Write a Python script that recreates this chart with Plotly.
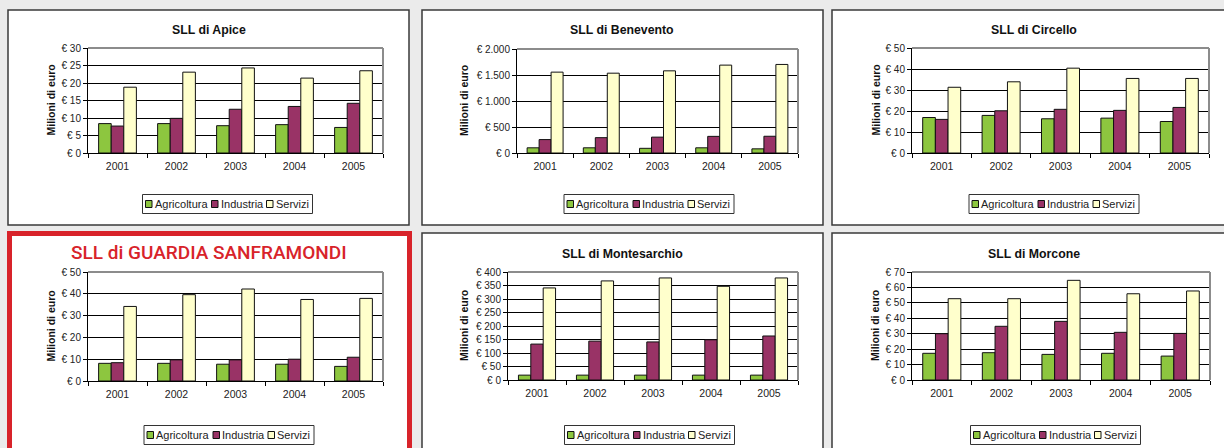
import plotly.graph_objects as go

# ---------------- data ----------------
years = ["2001", "2002", "2003", "2004", "2005"]
series_names = ["Agricoltura", "Industria", "Servizi"]
series_colors = ["#8dc63f", "#993366", "#ffffcc"]

panel_titles = [
    "SLL di Apice",
    "SLL di Benevento",
    "SLL di Circello",
    "SLL di GUARDIA SANFRAMONDI",
    "SLL di Montesarchio",
    "SLL di Morcone",
]
y_axis_title = "Milioni di euro"

apice_agri = [8.4, 8.4, 7.8, 8.1, 7.3]
apice_ind = [7.7, 9.9, 12.5, 13.3, 14.2]
apice_serv = [18.8, 23.1, 24.3, 21.4, 23.5]

benevento_agri = [100, 100, 90, 100, 80]
benevento_ind = [258, 295, 305, 320, 322]
benevento_serv = [1555, 1535, 1580, 1690, 1703]

circello_agri = [16.9, 17.9, 16.3, 16.6, 15.0]
circello_ind = [16.0, 20.1, 20.8, 20.3, 21.7]
circello_serv = [31.3, 33.9, 40.4, 35.5, 35.5]

guardia_agri = [8.1, 8.1, 7.7, 7.7, 6.7]
guardia_ind = [8.4, 9.7, 9.7, 10.0, 10.9]
guardia_serv = [34.2, 39.6, 42.2, 37.4, 37.9]

montesarchio_agri = [18, 18, 18, 18, 18]
montesarchio_ind = [133, 144, 141, 149, 163]
montesarchio_serv = [341, 367, 378, 347, 378]

morcone_agri = [17.3, 17.7, 16.6, 17.3, 15.5]
morcone_ind = [30.0, 34.8, 38.0, 30.9, 30.2]
morcone_serv = [52.7, 52.7, 64.6, 55.9, 57.7]

y_max = [30, 2000, 50, 50, 400, 70]
y_dtick = [5, 500, 10, 10, 50, 10]

panel_series = [
    [apice_agri, apice_ind, apice_serv],
    [benevento_agri, benevento_ind, benevento_serv],
    [circello_agri, circello_ind, circello_serv],
    [guardia_agri, guardia_ind, guardia_serv],
    [montesarchio_agri, montesarchio_ind, montesarchio_serv],
    [morcone_agri, morcone_ind, morcone_serv],
]

# ---------------- layout geometry (pixels) ----------------
W, H = 1224, 448
FONT = "Liberation Sans, Arial, sans-serif"
RED = "#d8232a"


def px(x):
    return x / W


def py(y):
    return 1 - y / H


borders = [
    (8, 10, 409, 225), (422, 10, 823, 225), (832, 10, 1240, 225),
    (9.5, 233.5, 409.5, 470), (422, 233, 823, 470), (832, 233, 1240, 470),
]
plots = [
    (88, 48, 383, 153), (517, 49, 798, 153), (912, 48, 1209, 153),
    (88, 272, 383, 381), (508, 272, 798, 380), (912, 272, 1210, 380),
]
title_pos = [(209, 30), (622, 30), (1034, 30), (209, 252), (622, 254), (1034, 254)]
ytitle_x = [50, 464, 875, 50, 464, 875]
legend_pos = [(227.5, 204), (649, 204), (1054, 204),
              (229, 435), (649.5, 435), (1055.5, 435)]

fig = go.Figure()
shapes = []
annotations = []

for i in range(6):
    xa = "x" if i == 0 else f"x{i+1}"
    ya = "y" if i == 0 else f"y{i+1}"
    for s in range(3):
        fig.add_trace(go.Bar(
            x=years, y=panel_series[i][s], name=series_names[s],
            marker=dict(color=series_colors[s], line=dict(color="#111111", width=1)),
            xaxis=xa, yaxis=ya, showlegend=False,
            hovertemplate="%{x}: € %{y}<extra>" + series_names[s] + "</extra>",
        ))
    x0, y0, x1, y1 = plots[i]
    xkey = "xaxis" if i == 0 else f"xaxis{i+1}"
    ykey = "yaxis" if i == 0 else f"yaxis{i+1}"
    fig.update_layout(**{
        xkey: dict(
            domain=[px(x0), px(x1)], anchor=ya, type="category", automargin=False,
            showline=True, linecolor="#000000", linewidth=1,
            ticks="outside", tickson="boundaries", ticklen=4, tickcolor="#000000",
            ticklabelstandoff=3,
            tickfont=dict(family=FONT, size=10.5, color="#222222"),
            showgrid=False, zeroline=False, fixedrange=True,
        ),
        ykey: dict(
            domain=[py(y1), py(y0)], anchor=xa, automargin=False,
            range=[0, y_max[i]], tick0=0, dtick=y_dtick[i],
            showgrid=True, gridcolor="#000000", gridwidth=1,
            showline=True, linecolor="#000000", linewidth=1,
            ticks="outside", ticklen=4, tickcolor="#000000",
            tickprefix="€ ", tickformat=",d",
            tickfont=dict(family=FONT, size=10, color="#222222"),
            zeroline=False, fixedrange=True,
        ),
    })

    bx0, by0, bx1, by1 = borders[i]
    if i == 3:
        shapes.append(dict(type="rect", xref="paper", yref="paper", layer="below",
                           x0=px(bx0), x1=px(bx1), y0=py(by1), y1=py(by0),
                           line=dict(color=RED, width=5), fillcolor="#ffffff"))
    else:
        shapes.append(dict(type="rect", xref="paper", yref="paper", layer="below",
                           x0=px(bx0), x1=px(bx1), y0=py(by1), y1=py(by0),
                           line=dict(color="#3a3a3a", width=1.5), fillcolor="#ffffff"))

    dx = "x domain" if i == 0 else f"x{i+1} domain"
    dy = "y domain" if i == 0 else f"y{i+1} domain"
    shapes.append(dict(type="line", xref=dx, yref=dy, x0=0, x1=1, y0=1, y1=1,
                       line=dict(color="#8c8c8c", width=2), layer="above"))
    shapes.append(dict(type="line", xref=dx, yref=dy, x0=1, x1=1, y0=0, y1=1,
                       line=dict(color="#8c8c8c", width=2), layer="above"))

    tx, ty = title_pos[i]
    if i == 3:
        tfont = dict(family="Roboto, Liberation Sans, sans-serif",
                     size=19, color=RED, weight=500)
    else:
        tfont = dict(family=FONT, size=12.3, color="#111111", weight="bold")
    annotations.append(dict(text=panel_titles[i], x=px(tx), y=py(ty), xref="paper", yref="paper",
                            xanchor="center", yanchor="middle", showarrow=False, font=tfont))

    annotations.append(dict(text=y_axis_title, x=px(ytitle_x[i]), y=py((y0 + y1) / 2),
                            xref="paper", yref="paper", xanchor="center", yanchor="middle",
                            textangle=-90, showarrow=False,
                            font=dict(family=FONT, size=10.5, color="#111111", weight="bold")))

    # legend (box, swatches, labels)
    lcx, lcy = legend_pos[i]
    lw, lh = 170, 19
    lx0 = lcx - lw / 2
    shapes.append(dict(type="rect", xref="paper", yref="paper", layer="above",
                       x0=px(lx0), x1=px(lx0 + lw), y0=py(lcy + lh / 2), y1=py(lcy - lh / 2),
                       line=dict(color="#333333", width=1), fillcolor="rgba(0,0,0,0)"))
    sw_offsets = [3, 69, 124]
    for s in range(3):
        sx = lx0 + sw_offsets[s]
        shapes.append(dict(type="rect", xref="paper", yref="paper", layer="above",
                           x0=px(sx), x1=px(sx + 6.5), y0=py(lcy + 3.5), y1=py(lcy - 3.5),
                           line=dict(color="#111111", width=1), fillcolor=series_colors[s]))
        annotations.append(dict(text=series_names[s], x=px(sx + 7), y=py(lcy),
                                xref="paper", yref="paper", xanchor="left", yanchor="middle",
                                showarrow=False,
                                font=dict(family=FONT, size=11, color="#222222")))

fig.update_layout(
    width=W, height=H, autosize=False, margin=dict(l=0, r=0, t=0, b=0, pad=0),
    paper_bgcolor="#ebebeb", plot_bgcolor="#c0c0c0",
    barmode="group", bargap=0.36, bargroupgap=0,
    separators=",.",
    shapes=shapes, annotations=annotations,
    showlegend=False,
)

fig.write_html("out.html", config={"displayModeBar": False},
               post_script="document.body.style.margin='0';document.body.style.overflow='hidden';")
